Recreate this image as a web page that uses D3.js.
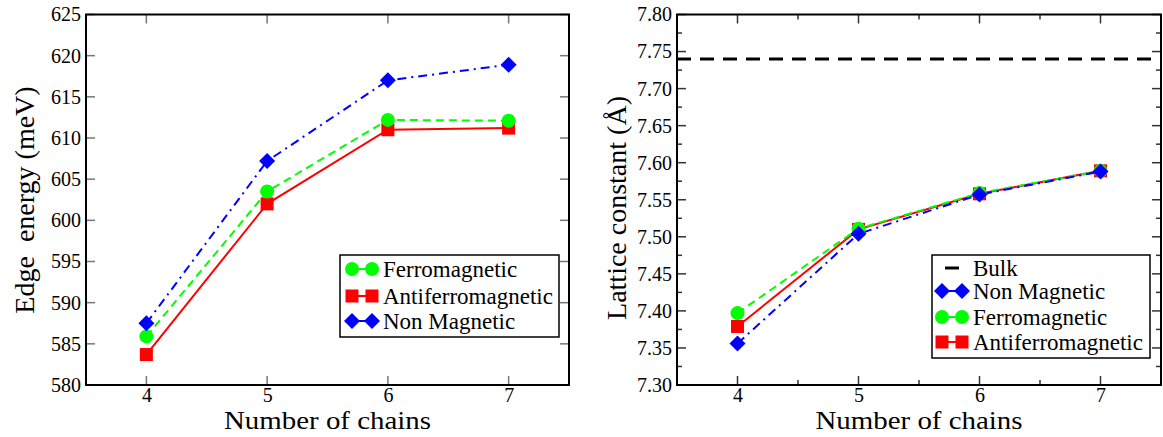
<!DOCTYPE html>
<html><head><meta charset="utf-8">
<script src="https://cdn.jsdelivr.net/npm/d3@7"></script>
<style>
html,body{margin:0;padding:0;background:#fff;}
svg text{font-family:"Liberation Serif",serif !important;fill:#000;}
</style></head>
<body>
<svg id="chart" width="1163" height="437" font-family="Liberation Serif"></svg>
<script>
const chains = [4, 5, 6, 7];
const edgeFM  = [585.9, 603.5, 612.2, 612.1];
const edgeAFM = [583.7, 602.0, 611.0, 611.2];
const edgeNM  = [587.5, 607.2, 617.0, 618.9];
const latNM  = [7.356, 7.504, 7.557, 7.588];
const latFM  = [7.397, 7.511, 7.559, 7.589];
const latAFM = [7.379, 7.510, 7.558, 7.589];
const bulkLattice = 7.74;
const edgeTicks = [580, 585, 590, 595, 600, 605, 610, 615, 620, 625];
const latTicks = [7.30, 7.35, 7.40, 7.45, 7.50, 7.55, 7.60, 7.65, 7.70, 7.75, 7.80];
const latMinor = [7.325, 7.375, 7.425, 7.475, 7.525, 7.575, 7.625, 7.675, 7.725, 7.775];
const xMinor = [4.5, 5.5, 6.5];
const labels = {FM: "Ferromagnetic", AFM: "Antiferromagnetic", NM: "Non Magnetic", bulk: "Bulk"};

const svg = d3.select("#chart");
const FONT = "Liberation Serif";
const COL = {FM: "#00ff00", AFM: "#ff0000", NM: "#0000ff"};
const DASH = {FM: "8,5", AFM: null, NM: "9,5,2,5"};
const TF = 20;

function marker(g, type, x, y) {
  if (type === "FM") g.append("circle").attr("cx", x).attr("cy", y).attr("r", 7).attr("fill", COL.FM);
  else if (type === "AFM") g.append("rect").attr("x", x - 6.5).attr("y", y - 6.5).attr("width", 13).attr("height", 13).attr("fill", COL.AFM);
  else g.append("path").attr("d", `M${x},${y-8}L${x+8},${y}L${x},${y+8}L${x-8},${y}Z`).attr("fill", COL.NM);
}

function panel(opt) {
  const x = d3.scaleLinear().domain([3.5, 7.5]).range([opt.x0, opt.x1]);
  const y = d3.scaleLinear().domain(opt.ydom).range([385, 14.5]);
  const g = svg.append("g");
  const tcol = opt.tickColor;
  chains.forEach(c => {
    g.append("line").attr("x1", x(c)).attr("x2", x(c)).attr("y1", 385).attr("y2", 385 - 9).attr("stroke", tcol).attr("stroke-width", 1.5);
    g.append("line").attr("x1", x(c)).attr("x2", x(c)).attr("y1", 14.5).attr("y2", 14.5 + 9).attr("stroke", tcol).attr("stroke-width", 1.5);
  });
  (opt.xMinor || []).forEach(c => {
    g.append("line").attr("x1", x(c)).attr("x2", x(c)).attr("y1", 385).attr("y2", 385 - 5).attr("stroke", tcol).attr("stroke-width", 1.5);
    g.append("line").attr("x1", x(c)).attr("x2", x(c)).attr("y1", 14.5).attr("y2", 14.5 + 5).attr("stroke", tcol).attr("stroke-width", 1.5);
  });
  opt.yTicks.forEach(v => {
    g.append("line").attr("x1", opt.x0).attr("x2", opt.x0 + 9).attr("y1", y(v)).attr("y2", y(v)).attr("stroke", tcol).attr("stroke-width", 1.5);
    g.append("line").attr("x1", opt.x1).attr("x2", opt.x1 - 9).attr("y1", y(v)).attr("y2", y(v)).attr("stroke", tcol).attr("stroke-width", 1.5);
  });
  (opt.yMinor || []).forEach(v => {
    g.append("line").attr("x1", opt.x0).attr("x2", opt.x0 + 5).attr("y1", y(v)).attr("y2", y(v)).attr("stroke", tcol).attr("stroke-width", 1.5);
    g.append("line").attr("x1", opt.x1).attr("x2", opt.x1 - 5).attr("y1", y(v)).attr("y2", y(v)).attr("stroke", tcol).attr("stroke-width", 1.5);
  });
  const ax = g.append("g").attr("transform", `translate(0,385)`)
    .call(d3.axisBottom(x).tickValues(chains).tickFormat(d3.format("d")).tickSize(0).tickPadding(3));
  ax.attr("font-family", FONT).attr("font-size", TF);
  ax.select(".domain").remove();
  ax.selectAll("text").attr("font-size", TF).attr("font-family", FONT).attr("fill", "#000");
  const ay = g.append("g").attr("transform", `translate(${opt.x0},0)`)
    .call(d3.axisLeft(y).tickValues(opt.yTicks).tickFormat(opt.fmt).tickSize(0).tickPadding(5));
  ay.attr("font-family", FONT).attr("font-size", TF);
  ay.select(".domain").remove();
  ay.selectAll("text").attr("font-size", TF).attr("font-family", FONT).attr("fill", "#000");

  g.append("rect").attr("x", opt.x0).attr("y", 14.5).attr("width", opt.x1 - opt.x0).attr("height", 385 - 14.5)
    .attr("fill", "none").attr("stroke", "#000").attr("stroke-width", 2);

  if (opt.bulk !== undefined) {
    g.append("line").attr("x1", opt.x0).attr("x2", opt.x1).attr("y1", y(opt.bulk)).attr("y2", y(opt.bulk))
      .attr("stroke", "#000").attr("stroke-width", 3).attr("stroke-dasharray", "14,9");
  }
  const line = d3.line().x((d, i) => x(chains[i])).y(d => y(d));
  opt.series.forEach(s => {
    g.append("path").attr("d", line(s.data)).attr("fill", "none").attr("stroke", COL[s.type])
      .attr("stroke-width", 2).attr("stroke-dasharray", DASH[s.type]);
  });
  opt.series.forEach(s => {
    s.data.forEach((v, i) => marker(g, s.type, x(chains[i]), y(v)));
  });

  g.append("text").attr("x", (opt.x0 + opt.x1) / 2).attr("y", 429).attr("text-anchor", "middle")
    .attr("font-family", FONT).attr("font-size", 25).attr("textLength", 207).attr("lengthAdjust", "spacingAndGlyphs")
    .text("Number of chains");
  g.append("text").attr("transform", `translate(${opt.ytx},${opt.yty}) rotate(-90)`).attr("text-anchor", "middle")
    .attr("font-family", FONT).attr("font-size", 28).style("white-space", "pre").text(opt.ytitle);

  const L = opt.legend;
  g.append("rect").attr("x", L.x).attr("y", L.y).attr("width", L.w).attr("height", L.h)
    .attr("fill", "#fff").attr("stroke", "#000").attr("stroke-width", 1.5);
  L.rows.forEach(r => {
    if (r.type === "bulk") {
      g.append("line").attr("x1", L.mx - 7).attr("x2", L.mx + 7).attr("y1", r.y).attr("y2", r.y).attr("stroke", "#000").attr("stroke-width", 3);
    } else {
      g.append("line").attr("x1", L.mx - 10).attr("x2", L.mx + 10).attr("y1", r.y).attr("y2", r.y).attr("stroke", COL[r.type]).attr("stroke-width", 2);
      marker(g, r.type, L.mx - 10, r.y);
      marker(g, r.type, L.mx + 10, r.y);
    }
    g.append("text").attr("x", L.tx).attr("y", r.y).attr("dy", "0.35em").attr("font-family", FONT).attr("font-size", 23).text(labels[r.type]);
  });
}

panel({
  x0: 86, x1: 569, ydom: [580, 625], yTicks: edgeTicks, fmt: d3.format("d"), tickColor: "#777",
  series: [{type: "AFM", data: edgeAFM}, {type: "FM", data: edgeFM}, {type: "NM", data: edgeNM}],
  ytitle: "Edge  energy (meV)", ytx: 34, yty: 200,
  legend: {x: 340, y: 255, w: 219, h: 82, mx: 362, tx: 383,
    rows: [{type: "FM", y: 269}, {type: "AFM", y: 296}, {type: "NM", y: 321}]}
});
panel({
  x0: 677, x1: 1161, ydom: [7.30, 7.80], yTicks: latTicks, yMinor: latMinor, xMinor: xMinor, fmt: d3.format(".2f"), tickColor: "#333",
  bulk: bulkLattice,
  series: [{type: "AFM", data: latAFM}, {type: "FM", data: latFM}, {type: "NM", data: latNM}],
  ytitle: "Lattice constant (Å)", ytx: 626, yty: 208,
  legend: {x: 932, y: 255, w: 218, h: 103, mx: 952, tx: 973,
    rows: [{type: "bulk", y: 268}, {type: "NM", y: 291}, {type: "FM", y: 317}, {type: "AFM", y: 342}]}
});
</script>
</body></html>
